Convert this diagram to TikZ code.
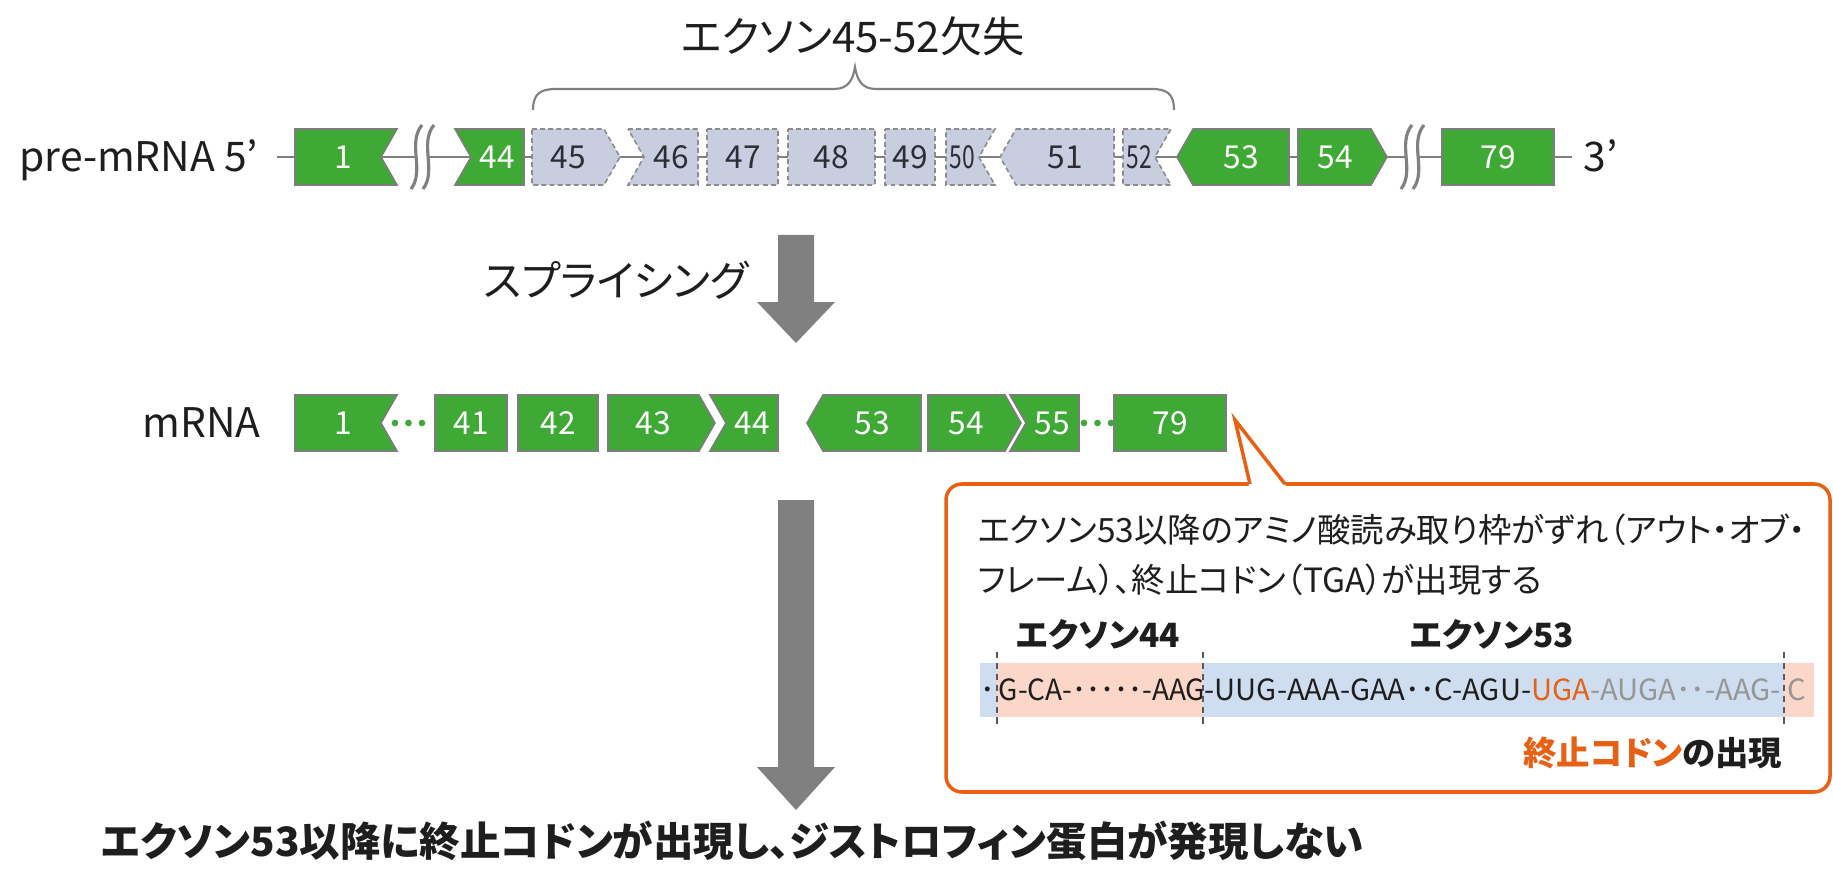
\documentclass[tikz,border=0pt]{standalone}
\usepackage{fontspec}
\setmainfont{Noto Sans CJK JP}[RawFeature=+palt]
\usepackage{graphicx}
\pgfdeclarelayer{bg}
\pgfsetlayers{bg,main}
\definecolor{exgreen}{RGB}{62,170,53}
\definecolor{exedge}{RGB}{125,125,125}
\definecolor{delfill}{RGB}{200,205,223}
\definecolor{deledge}{RGB}{140,140,140}
\definecolor{ingray}{RGB}{128,128,128}
\definecolor{argray}{RGB}{128,128,128}
\definecolor{calor}{RGB}{232,96,20}
\definecolor{peach}{RGB}{250,215,200}
\definecolor{blueband}{RGB}{206,222,240}
\definecolor{txt}{RGB}{30,30,30}
\definecolor{seqgray}{RGB}{150,150,150}
\definecolor{numdark}{RGB}{45,45,55}
\definecolor{dashgray}{RGB}{90,90,90}
\newcommand\shFF[3]{(#1,#3-28) -- (#2,#3-28) -- (#2,#3+28) -- (#1,#3+28) -- cycle}
\newcommand\shFN[3]{(#1,#3-28) -- (#2,#3-28) -- (#2-16,#3) -- (#2,#3+28) -- (#1,#3+28) -- cycle}
\newcommand\shNF[3]{(#1,#3-28) -- (#2,#3-28) -- (#2,#3+28) -- (#1,#3+28) -- (#1+16,#3) -- cycle}
\newcommand\shFA[3]{(#1,#3-28) -- (#2-16,#3-28) -- (#2,#3) -- (#2-16,#3+28) -- (#1,#3+28) -- cycle}
\newcommand\shAF[3]{(#1+16,#3-28) -- (#2,#3-28) -- (#2,#3+28) -- (#1+16,#3+28) -- (#1,#3) -- cycle}
\newcommand\brkmark[1]{%
 \fill[white] (#1+1,125) .. controls (#1-14,143) and (#1+4,171) .. (#1-10,189) -- (#1+2,189) .. controls (#1+16,171) and (#1-2,143) .. (#1+13,125) -- cycle;
 \draw[brkline] (#1+1,125) .. controls (#1-14,143) and (#1+4,171) .. (#1-10,189);
 \draw[brkline] (#1+13,125) .. controls (#1-2,143) and (#1+16,171) .. (#1+2,189);}
\begin{document}
\begin{tikzpicture}[x=0.01cm,y=-0.01cm,
 exon/.style={fill=exgreen,draw=exedge,line width=0.45pt},
 delx/.style={fill=delfill,draw=deledge,line width=0.45pt,dash pattern=on 1.4pt off 0.9pt},
 intron/.style={draw=ingray,line width=0.85pt},
 brkline/.style={draw=ingray,line width=0.9pt},
 numw/.style={font=\fontsize{9}{9}\selectfont,text=white,inner sep=0pt,text height=6.6pt,text depth=0pt},
 numd/.style={numw,text=numdark},
 lab/.style={font=\fontsize{11.6}{11.6}\selectfont,text=txt,inner sep=0pt,text height=8.5pt,text depth=0pt},
 jpL/.style={font=\fontsize{12}{12}\selectfont,text=txt,inner sep=0pt,text height=9.1pt,text depth=0pt},
 jpS/.style={font=\fontsize{9.5}{9.5}\selectfont,text=txt,inner sep=0pt,text height=7.2pt,text depth=0pt},
 seq/.style={font=\fontsize{8.3}{8.3}\selectfont,text=txt,inner sep=0pt,text height=6.1pt,text depth=0pt},
 bigarrow/.style={fill=argray},
 gdots/.style={draw=exgreen,line width=1.9pt,line cap=round,dash pattern=on 0pt off 3.84pt},
 vdash/.style={draw=dashgray,line width=0.4pt,dash pattern=on 1.8pt off 1.3pt},
 callout/.style={draw=calor,line width=1pt,fill=white},
 brace/.style={draw=ingray,line width=0.6pt}
]
\useasboundingbox (0,0) rectangle (1833,870);
% ---------- texts ----------
\node[jpL] (ttl) at (853,37) {エクソン45-52欠失};
\node[lab,anchor=east] (lpre) at (259,157) {pre-mRNA 5’};
\node[lab,anchor=west] (l3) at (1583,157) {3’};
\node[lab,anchor=east] (lm) at (261,423) {mRNA};
\node[jpL,anchor=west] (spl) at (483,281) {スプライシング};
\node[jpL,anchor=west,font=\fontsize{11.5}{11.5}\selectfont\bfseries] (concl) at (101,840) {エクソン53以降に終止コドンが出現し、ジストロフィン蛋白が発現しない};
% pre-mRNA numbers
\node[numw] (p1) at (343,157) {1};
\node[numw] (p44) at (497,157) {44};
\node[numd] (p45) at (568,157) {45};
\node[numd] (p46) at (671,157) {46};
\node[numd] (p47) at (743,157) {47};
\node[numd] (p48) at (831,157) {48};
\node[numd] (p49) at (910,157) {49};
\node[numd] (p50) at (962,157) {\scalebox{0.72}[1]{50}};
\node[numd] (p51) at (1065,157) {51};
\node[numd] (p52) at (1139,157) {\scalebox{0.72}[1]{52}};
\node[numw] (p53) at (1241,157) {53};
\node[numw] (p54) at (1335,157) {54};
\node[numw] (p79) at (1498,157) {79};
% mRNA numbers
\node[numw] (m1) at (343,423) {1};
\node[numw] (m41) at (471,423) {41};
\node[numw] (m42) at (558,423) {42};
\node[numw] (m43) at (653,423) {43};
\node[numw] (m44) at (752,423) {44};
\node[numw] (m53) at (872,423) {53};
\node[numw] (m54) at (966,423) {54};
\node[numw] (m55) at (1052,423) {55};
\node[numw] (m79) at (1170,423) {79};
% callout texts
\node[jpS,anchor=west] (c1) at (977,530) {エクソン53以降のアミノ酸読み取り枠がずれ（アウト・オブ・};
\node[jpS,anchor=west] (c2) at (977,580) {フレーム）、終止コドン（TGA）が出現する};
\node[jpS,font=\fontsize{9.5}{9.5}\selectfont\bfseries] (x44) at (1098,635) {エクソン44};
\node[jpS,font=\fontsize{9.5}{9.5}\selectfont\bfseries] (x53) at (1492,635) {エクソン53};
\node[seq,anchor=east] (q0) at (996,690) {･};
\node[seq,anchor=west] (q1) at (998,690) {\scalebox{0.96}[1]{G-CA-･････-AAG}};
\node[seq,anchor=west] (q2) at (1204,690) {-UUG-AAA-GAA･･C-AGU-\textcolor{calor}{UGA}\textcolor{seqgray}{-AUGA･･-AAG-}};
\node[seq,anchor=west,text=seqgray] (q3) at (1787,690) {C};
\node[jpS,anchor=east,font=\fontsize{9.5}{9.5}\selectfont\bfseries] (stop) at (1783,753) {\textcolor{calor}{終止コドン}の出現};
% ---------- graphics ----------
\begin{pgfonlayer}{bg}
\fill[white] (0,0) rectangle (1833,870);
% brace
\draw[brace] (533,110) .. controls (533,94) and (540,89) .. (556,89) -- (834,89) .. controls (848,89) and (853,80) .. (855,67) .. controls (857,80) and (862,89) .. (876,89) -- (1152,89) .. controls (1167,89) and (1174,94) .. (1174,110);
% intron line
\coordinate (s5) at (277,157);
\coordinate (e3) at (1572,157);
\draw[intron] (s5) -- (p1) -- (p44) -- (p45) -- (p46) -- (p47) -- (p48) -- (p49) -- (p50) -- (p51) -- (p52) -- (p53) -- (p54) -- (p79) -- (e3);
\brkmark{421}
\brkmark{1411}
% pre-mRNA exons
\draw[exon] \shFN{295}{397}{157};
\draw[exon] \shNF{455}{524}{157};
\draw[delx] \shFA{532}{620}{157};
\draw[delx] \shNF{628}{698}{157};
\draw[delx] \shFF{707}{778}{157};
\draw[delx] \shFF{788}{875}{157};
\draw[delx] \shFF{885}{935}{157};
\draw[delx] \shFN{946}{995}{157};
\draw[delx] \shAF{1000}{1114}{157};
\draw[delx] \shFN{1123}{1171}{157};
\draw[exon] \shAF{1177}{1289}{157};
\draw[exon] \shFA{1298}{1387}{157};
\draw[exon] \shFF{1442}{1554}{157};
% arrows
\fill[bigarrow] (778,235) -- (814,235) -- (814,302) -- (835,302) -- (796,343) -- (757,302) -- (778,302) -- cycle;
\fill[bigarrow] (778,500) -- (814,500) -- (814,767) -- (835,767) -- (796,810) -- (757,767) -- (778,767) -- cycle;
% mRNA
\coordinate (g1a) at (395,423);
\coordinate (g1b) at (422.5,423);
\coordinate (g2a) at (1084,423);
\coordinate (g2b) at (1111.5,423);
\draw[gdots] (g1a) -- (g1b);
\draw[gdots] (g2a) -- (g2b);
\draw[exon] \shFN{295}{397}{423};
\draw[exon] \shFF{435}{507}{423};
\draw[exon] \shFF{518}{598}{423};
\draw[exon] \shFA{608}{715}{423};
\draw[exon] \shNF{710}{778}{423};
\draw[exon] \shAF{807}{921}{423};
\draw[exon] \shFA{928}{1021}{423};
\draw[exon] \shNF{1010}{1079}{423};
\draw[exon] \shFF{1114}{1226}{423};
% callout
\draw[callout,rounded corners=4.5pt] (946,484) rectangle (1830,792);
\fill[white] (1249,486) -- (1235,421) -- (1286,486) -- cycle;
\draw[draw=calor,line width=1pt] (1250,484) -- (1235,420) -- (1285,484);
\fill[blueband] (980,663) rectangle (1814,717);
\fill[peach] (997,663) rectangle (1203,717);
\fill[peach] (1784,663) rectangle (1814,717);
\draw[vdash] (997,652) -- (997,728);
\draw[vdash] (1203,652) -- (1203,728);
\draw[vdash] (1784,652) -- (1784,728);
\end{pgfonlayer}
\end{tikzpicture}
\end{document}
